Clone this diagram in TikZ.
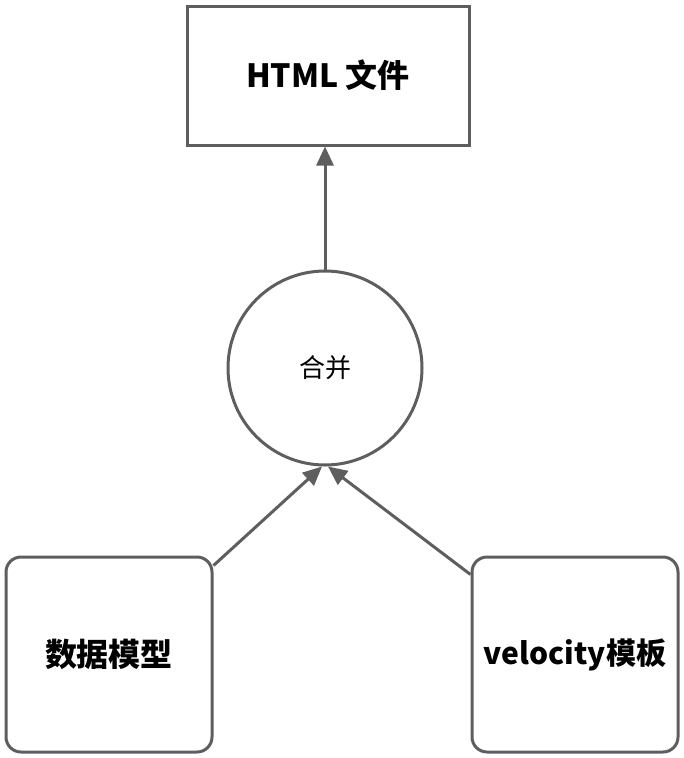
\documentclass[tikz,border=0pt]{standalone}
\usepackage{fontspec}
\setmainfont{Noto Sans CJK SC}
\usetikzlibrary{arrows.meta,positioning,calc}
\definecolor{linegray}{HTML}{5E5E5E}

\begin{document}
\begin{tikzpicture}[
  x=1pt, y=-1pt,
  box/.style={draw=linegray, line width=3pt, align=center, inner sep=0pt, minimum width=206pt, minimum height=195pt, rounded corners=15pt, font=\bfseries\fontsize{28}{32}\selectfont},
  arr/.style={-{Triangle[length=19pt, width=17pt]}, draw=linegray, line width=3pt}
]
\useasboundingbox (0,0) rectangle (684,758);
\node[draw=linegray, line width=3pt, minimum width=282pt, minimum height=139pt, inner sep=0pt, font=\bfseries\fontsize{32}{36}\selectfont] (html) at (328,75.5) {HTML 文件};
\node[circle, draw=linegray, line width=3pt, minimum size=194pt, inner sep=0pt, font=\fontsize{26}{30}\selectfont] (merge) at (325,368) {合并};
\node[box, font=\bfseries\fontsize{32}{36}\selectfont] (model) at (109,654.5) {数据模型};
\node[box, font=\bfseries\fontsize{30}{34}\selectfont] (tmpl) at (575,654.5) {velocity模板};
\draw[arr] (merge.north) -- (merge.north |- html.south);
\draw[arr] ([yshift=-10pt]model.north east) -- ([xshift=-3pt]merge.south);
\draw[arr] ([yshift=-19pt]tmpl.north west) -- ([xshift=3pt]merge.south);
\end{tikzpicture}
\end{document}
